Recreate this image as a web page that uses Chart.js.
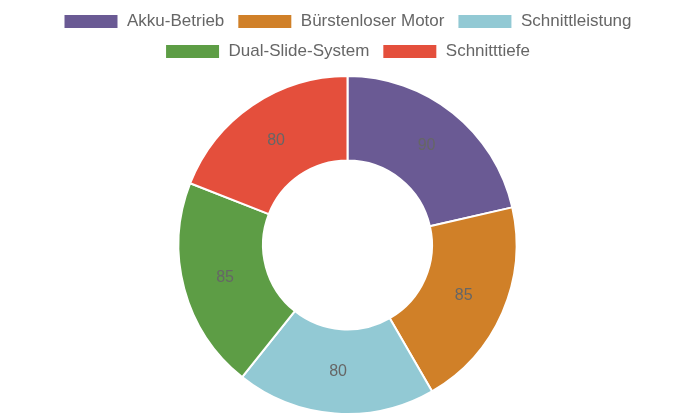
<!DOCTYPE html>
<html>
<head>
<meta charset="utf-8">
<script src="https://cdn.jsdelivr.net/npm/chart.js@4/dist/chart.umd.min.js"></script>
<style>
  html, body { margin: 0; padding: 0; background: #fff; }
  #wrap { width: 695px; height: 417px; position: relative; }
</style>
</head>
<body>
<div id="wrap"><canvas id="chart"></canvas></div>
<script>
var LABELS = ['Akku-Betrieb', 'Bürstenloser Motor', 'Schnittleistung', 'Dual-Slide-System', 'Schnitttiefe'];
var VALUES = [90, 85, 80, 85, 80];
var COLORS = ['#6a5a94', '#d08028', '#92c9d4', '#5d9d45', '#e44f3c'];

// Draw the value in the middle of each slice
var sliceLabels = {
  id: 'sliceLabels',
  afterDatasetsDraw: function (chart) {
    var ctx = chart.ctx;
    var meta = chart.getDatasetMeta(0);
    ctx.save();
    ctx.font = '16px "Liberation Sans", Arial, sans-serif';
    ctx.fillStyle = '#666666';
    ctx.textAlign = 'center';
    ctx.textBaseline = 'middle';
    meta.data.forEach(function (arc, i) {
      var pos = arc.tooltipPosition();
      ctx.fillText(String(VALUES[i]), pos.x, pos.y);
    });
    ctx.restore();
  }
};

// A bit more room under the legend
var legendGap = {
  id: 'legendGap',
  beforeInit: function (chart) {
    var origFit = chart.legend.fit;
    chart.legend.fit = function () {
      origFit.call(this);
      this.height += 3;
    };
  }
};

new Chart(document.getElementById('chart'), {
  type: 'doughnut',
  data: {
    labels: LABELS,
    datasets: [{
      data: VALUES,
      backgroundColor: COLORS,
      borderColor: '#ffffff',
      borderWidth: 2,
      radius: 169
    }]
  },
  options: {
    responsive: true,
    maintainAspectRatio: false,
    animation: false,
    cutout: '50%',
    layout: { padding: 0 },
    plugins: {
      legend: {
        position: 'top',
        labels: {
          color: '#666666',
          font: { size: 17, family: '"Liberation Sans", Arial, sans-serif' },
          boxWidth: 55,
          boxHeight: 15,
          padding: 13
        }
      },
      tooltip: { enabled: false }
    }
  },
  plugins: [sliceLabels, legendGap]
});
</script>
</body>
</html>
